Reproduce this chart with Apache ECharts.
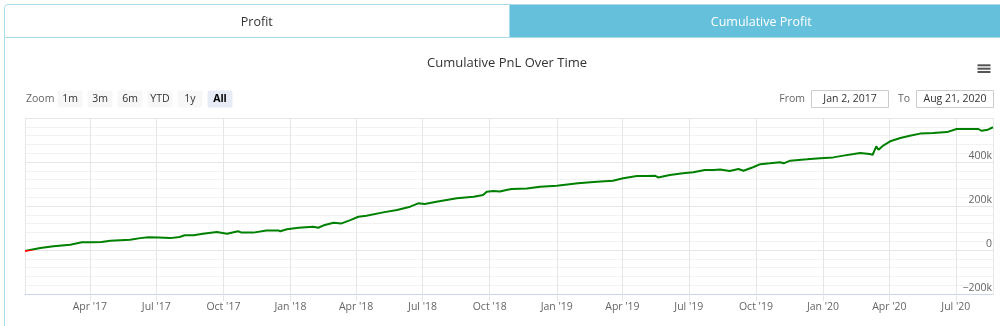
<!DOCTYPE html>
<html>
<head>
<meta charset="utf-8">
<title>Cumulative Profit</title>
<script src="https://cdn.jsdelivr.net/npm/echarts@6/dist/echarts.min.js"></script>
<style>
  html, body { margin: 0; padding: 0; background: #fff; width: 1000px; height: 326px; overflow: hidden; font-family: 'Open Sans', sans-serif; }
  #chart { position: absolute; left: 0; top: 0; width: 1000px; height: 326px; }
  #frame { position: absolute; left: 4px; top: 4px; width: 1100px; height: 400px; border: 1px solid #a9dbea; border-radius: 4px 0 0 0; pointer-events: none; z-index: 2; }
  #tabs { position: absolute; left: 5px; top: 5px; width: 1008px; height: 32px; display: flex; z-index: 3; border-bottom: 1px solid #a9dbea; }
  .tab { flex: 1; text-align: center; line-height: 34px; height: 32px; font-size: 12.5px; color: #333; }
  .tab.on { background: #65c0db; color: #fff; border-left: 1px solid #a9dbea; }
</style>
</head>
<body>
<div id="chart"></div>
<div id="frame"></div>
<div id="tabs"><div class="tab">Profit</div><div class="tab on">Cumulative Profit</div></div>
<script>
// Cumulative PnL samples (date, running total in USD)
const dates = [
  '2017-01-02','2017-01-23','2017-02-10','2017-03-05','2017-03-21','2017-04-03','2017-04-17','2017-04-29',
  '2017-05-26','2017-06-09','2017-06-20','2017-07-04','2017-07-20','2017-08-02','2017-08-09','2017-08-21',
  '2017-09-03','2017-09-22','2017-10-06','2017-10-21','2017-10-26','2017-11-11','2017-11-29','2017-12-15',
  '2017-12-18','2017-12-27','2018-01-12','2018-02-01','2018-02-08','2018-02-17','2018-03-01','2018-03-12',
  '2018-03-24','2018-04-04','2018-04-15','2018-05-08','2018-05-27','2018-06-14','2018-06-25','2018-07-04',
  '2018-07-20','2018-08-17','2018-09-09','2018-09-22','2018-09-27','2018-10-06','2018-10-15','2018-10-24',
  '2018-10-31','2018-11-21','2018-12-09','2019-01-01','2019-01-30','2019-02-25','2019-03-19','2019-04-02',
  '2019-04-21','2019-05-04','2019-05-16','2019-05-20','2019-06-05','2019-06-23','2019-07-07','2019-07-23',
  '2019-08-04','2019-08-13','2019-08-26','2019-09-07','2019-09-14','2019-09-27','2019-10-07','2019-10-20',
  '2019-11-03','2019-11-08','2019-11-17','2019-12-10','2019-12-28','2020-01-15','2020-01-29','2020-02-12',
  '2020-02-21','2020-03-05','2020-03-09','2020-03-14','2020-03-17','2020-03-24','2020-04-02','2020-04-16',
  '2020-04-29','2020-05-13','2020-05-15','2020-05-31','2020-06-19','2020-07-02','2020-07-20','2020-08-01',
  '2020-08-05','2020-08-14','2020-08-21'
];
const pnl = [
  -5000, 9000, 17000, 24000, 35000, 35000, 36000, 42000,
  47000, 54000, 58000, 57000, 54000, 59000, 67000, 67000,
  74000, 82000, 74000, 85000, 79000, 79000, 89000, 89000,
  85000, 94000, 101000, 106000, 101000, 114000, 124000, 121000,
  136000, 151000, 156000, 171000, 182000, 197000, 212000, 209000,
  219000, 235000, 242000, 250000, 265000, 268000, 266000, 273000,
  277000, 280000, 288000, 292000, 303000, 310000, 315000, 326000,
  336000, 336000, 337000, 330000, 341000, 349000, 353000, 364000,
  364000, 366000, 359000, 368000, 360000, 376000, 390000, 394000,
  399000, 394000, 406000, 412000, 417000, 421000, 429000, 436000,
  441000, 436000, 433000, 471000, 456000, 476000, 494000, 509000,
  519000, 529000, 521000, 532000, 536000, 550000, 550000, 550000,
  542000, 547000, 558000
];

// Axis range and labels
const rangeStart = '2017-01-02';
const rangeEnd = '2020-08-21';
const rangeFromText = 'Jan 2, 2017';
const rangeToText = 'Aug 21, 2020';
const monthNames = ['Jan','Feb','Mar','Apr','May','Jun','Jul','Aug','Sep','Oct','Nov','Dec'];
const yTickValues = [-200000, 0, 200000, 400000, 600000];
const zoomButtons = ['1m', '3m', '6m', 'YTD', '1y', 'All'];
const selectedZoom = 'All';

const DAY = 24 * 3600 * 1000;
const FONT = "'Open Sans', sans-serif";

function fmtMonth(v) {
  const d = new Date(v);
  return monthNames[d.getMonth()] + " '" + String(d.getFullYear()).slice(2);
}
function fmtK(v) {
  if (v === 0) return '0';
  const s = Math.abs(v / 1000) + 'k';
  return v < 0 ? '\u2212' + s : s;
}

// Range selector, date inputs and menu icon
const graphics = [];
graphics.push({ type: 'text', x: 26, y: 99, style: { text: 'Zoom', fill: '#666', fontSize: 10.5, fontFamily: FONT, verticalAlign: 'middle' } });
zoomButtons.forEach((b, i) => {
  const x = 57.5 + 30 * i;
  const on = b === selectedZoom;
  graphics.push({ type: 'rect', shape: { x: x, y: 90.5, width: 25, height: 17, r: 2 }, style: { fill: on ? '#e6ebf5' : '#f7f7f7' } });
  graphics.push({ type: 'text', x: x + 12.5, y: 99.5, style: { text: b, fill: on ? '#000' : '#333', fontSize: 10.5, fontWeight: on ? 'bold' : 'normal', fontFamily: FONT, align: 'center', verticalAlign: 'middle' } });
});
graphics.push({ type: 'text', x: 805, y: 99, style: { text: 'From', fill: '#666', fontSize: 10.5, fontFamily: FONT, align: 'right', verticalAlign: 'middle' } });
graphics.push({ type: 'rect', shape: { x: 811.5, y: 90.5, width: 77, height: 17 }, style: { fill: '#fff', stroke: '#cccccc', lineWidth: 1 } });
graphics.push({ type: 'text', x: 850, y: 99.5, style: { text: rangeFromText, fill: '#333', fontSize: 10.5, fontFamily: FONT, align: 'center', verticalAlign: 'middle' } });
graphics.push({ type: 'text', x: 910, y: 99, style: { text: 'To', fill: '#666', fontSize: 10.5, fontFamily: FONT, align: 'right', verticalAlign: 'middle' } });
graphics.push({ type: 'rect', shape: { x: 916.5, y: 90.5, width: 77, height: 17 }, style: { fill: '#fff', stroke: '#cccccc', lineWidth: 1 } });
graphics.push({ type: 'text', x: 955, y: 99.5, style: { text: rangeToText, fill: '#333', fontSize: 10.5, fontFamily: FONT, align: 'center', verticalAlign: 'middle' } });
[64.3, 67.7, 71].forEach(y => {
  graphics.push({ type: 'rect', shape: { x: 977.5, y: y, width: 13, height: 2 }, style: { fill: '#555' } });
});

const chart = echarts.init(document.getElementById('chart'), null, { renderer: 'canvas' });
chart.setOption({
  animation: false,
  textStyle: { fontFamily: FONT },
  title: {
    text: 'Cumulative PnL Over Time',
    left: 427, top: 57, padding: 0,
    textStyle: { fontSize: 13, fontWeight: 'normal', color: '#333', fontFamily: FONT }
  },
  grid: { left: 25, right: 7, top: 118, bottom: 32, containLabel: false },
  xAxis: {
    type: 'time',
    min: new Date(rangeStart + 'T00:00:00').getTime(),
    max: new Date(rangeEnd + 'T00:00:00').getTime(),
    splitNumber: 14,
    minInterval: 80 * DAY,
    maxInterval: 100 * DAY,
    axisLine: { onZero: false, lineStyle: { color: '#ccd6eb' } },
    axisTick: { show: true, length: 7, lineStyle: { color: '#e6e6e6' } },
    splitLine: { show: true, lineStyle: { color: '#e6e6e6' } },
    axisLabel: { color: '#666', fontSize: 10.5, margin: 8, formatter: fmtMonth }
  },
  yAxis: {
    type: 'value',
    position: 'right',
    min: yTickValues[0],
    max: yTickValues[yTickValues.length - 1],
    interval: yTickValues[1] - yTickValues[0],
    axisLine: { show: false },
    axisTick: { show: false },
    minorTick: { show: false, splitNumber: 5 },
    splitLine: { lineStyle: { color: '#e6e6e6' } },
    minorSplitLine: { show: true, lineStyle: { color: '#f2f2f2' } },
    axisLabel: { inside: true, margin: 1, verticalAlign: 'bottom', color: '#666', fontSize: 10.5, showMaxLabel: false, formatter: fmtK }
  },
  // losses in red, gains in green
  visualMap: {
    show: false, type: 'piecewise', seriesIndex: 0, dimension: 1,
    pieces: [
      { min: -1000000, max: 0, color: '#ff0000' },
      { min: 0, max: 1000000, color: '#008000' }
    ]
  },
  series: [{
    name: 'Cumulative PnL',
    type: 'line',
    showSymbol: false,
    lineStyle: { width: 2 },
    data: dates.map((d, i) => [d, pnl[i]])
  }],
  graphic: graphics
});
</script>
</body>
</html>
